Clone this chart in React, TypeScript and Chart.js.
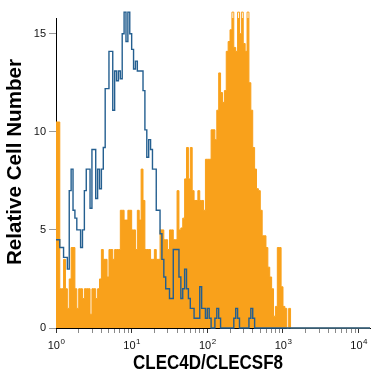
import React, { useEffect, useRef } from 'react';
import { Chart, registerables } from 'chart.js';

Chart.register(...registerables);

// ---- data (log10 fluorescence bins, counts) ----
const BIN_LOG_WIDTH = 0.025;
const X_MAX_LOG = 4.15;
const DECADES = [0, 1, 2, 3, 4];
const Y_TICKS = [0, 5, 10, 15];
const Y_MAX = 15.8;
const X_TITLE = 'CLEC4D/CLECSF8';
const Y_TITLE = 'Relative Cell Number';

// orange filled histogram (CLEC4D stained)
const ORANGE_COUNTS = [
  10.5, 10.5, 2.0, 2.0, 3.5, 2.0, 1.0, 2.5, 4.1, 4.1,
  2.0, 1.0, 2.0, 2.0, 1.5, 2.0, 2.0, 2.0, 0.7, 2.0,
  2.0, 1.5, 2.0, 2.5, 4.0, 3.5, 3.5, 2.6, 4.0, 4.0,
  3.5, 4.0, 4.0, 4.0, 6.0, 6.0, 5.5, 5.5, 6.0, 6.0,
  5.0, 5.0, 4.0, 6.0, 5.5, 8.1, 6.5, 4.0, 4.0, 4.0,
  3.5, 3.5, 4.0, 3.5, 3.5, 5.0, 5.0, 4.5, 4.5, 4.0,
  5.0, 5.0, 4.5, 4.5, 7.0, 5.0, 5.1, 5.6, 7.6, 9.2,
  7.6, 9.2, 7.0, 6.5, 6.5, 7.0, 6.5, 6.5, 6.0, 8.6,
  8.6, 8.6, 10.1, 10.1, 9.6, 11.1, 13.0, 12.0, 11.5, 12.1,
  14.1, 14.6, 15.2, 16.1, 14.3, 14.1, 16.1, 15.0, 16.1, 14.5,
  14.1, 16.1, 12.5, 11.1, 9.2, 8.1, 7.1, 7.0, 6.0, 4.7,
  4.7, 4.1, 3.1, 2.6, 2.0, 0.6, 1.1, 4.1, 4.1, 2.1,
  1.1, 1.0, 0, 1.0, 0,
];

// blue open histogram (isotype control)
const BLUE_COUNTS = [
  4.5, 4.5, 4.1, 4.1, 3.6, 3.6, 3.0, 7.0, 8.1, 6.0,
  5.6, 5.0, 5.0, 4.1, 5.0, 7.0, 8.1, 8.1, 6.1, 9.1,
  9.1, 6.6, 8.1, 7.1, 8.1, 9.2, 12.2, 12.2, 14.1, 14.1,
  11.1, 13.1, 12.6, 13.1, 12.7, 15.0, 16.1, 14.6, 16.1, 15.0,
  14.2, 13.2, 13.6, 13.1, 13.1, 13.1, 12.1, 10.1, 8.7, 9.6,
  9.1, 8.1, 8.1, 6.0, 6.0, 4.8, 3.5, 2.6, 2.0, 2.0,
  1.5, 1.5, 4.0, 4.0, 4.0, 2.6, 1.5, 2.0, 3.0, 2.0,
  1.5, 1.0, 1.0, 0.5, 0.5, 0.5, 2.1, 1.0, 1.0, 0.5,
  1.0, 0.5, 0, 0, 0.5, 1.0, 0.5, 0, 0, 0,
  0, 0, 0, 0, 0.5, 1.0, 0.5, 0, 0, 0,
  0, 0, 0.5, 1.0, 0.5,
];

const ORANGE = '#f9a11b';
const BLUE = '#245f90';
const FONT = '"Liberation Sans", Arial, sans-serif';

function toPoints(counts: number[]) {
  const pts = counts.map((v, i) => ({ x: i * BIN_LOG_WIDTH, y: v }));
  pts.push({ x: counts.length * BIN_LOG_WIDTH, y: 0 });
  pts.push({ x: X_MAX_LOG, y: 0 });
  return pts;
}

const X_TICK_POS: number[] = [];
DECADES.forEach((d) => {
  for (let k = 1; k <= 9; k++) {
    const v = d + Math.log10(k);
    if (v <= X_MAX_LOG + 1e-9) X_TICK_POS.push(v);
  }
});

const isMajor = (v: number) => Math.abs(v - Math.round(v)) < 1e-6;

const labelsPlugin = {
  id: 'flowLabels',
  afterDraw(chart: any) {
    const ctx = chart.ctx as CanvasRenderingContext2D;
    const xs = chart.scales.x;
    ctx.save();
    ctx.fillStyle = '#111';
    // x tick labels 10^n
    DECADES.forEach((d) => {
      const px = xs.getPixelForValue(d);
      ctx.font = `11px ${FONT}`;
      const w1 = ctx.measureText('10').width;
      ctx.font = `8px ${FONT}`;
      const w2 = ctx.measureText(String(d)).width;
      const start = px - (w1 + w2) / 2;
      ctx.textAlign = 'left';
      ctx.textBaseline = 'alphabetic';
      ctx.font = `11px ${FONT}`;
      ctx.fillText('10', start, 349);
      ctx.font = `8px ${FONT}`;
      ctx.fillText(String(d), start + w1 + 0.5, 344);
    });
    // x title
    ctx.font = `bold 20px ${FONT}`;
    const tw = ctx.measureText(X_TITLE).width;
    ctx.save();
    ctx.translate(208, 369);
    ctx.scale(150 / tw, 1);
    ctx.textAlign = 'center';
    ctx.fillStyle = '#000';
    ctx.fillText(X_TITLE, 0, 0);
    ctx.restore();
    // y title
    const yw = ctx.measureText(Y_TITLE).width;
    ctx.save();
    ctx.translate(21, 162);
    ctx.rotate(-Math.PI / 2);
    ctx.scale(206 / yw, 1);
    ctx.textAlign = 'center';
    ctx.fillStyle = '#000';
    ctx.fillText(Y_TITLE, 0, 0);
    ctx.restore();
    ctx.restore();
  },
};

export default function App() {
  const ref = useRef<HTMLCanvasElement | null>(null);
  useEffect(() => {
    if (!ref.current) return;
    const chart = new Chart(ref.current, {
      type: 'line',
      data: {
        datasets: [
          {
            label: 'Control',
            data: toPoints(BLUE_COUNTS),
            stepped: true,
            borderColor: BLUE,
            borderWidth: 1.4,
            pointRadius: 0,
            fill: false,
            clip: { left: 1, top: 8, right: 1, bottom: 1 } as any,
          },
          {
            label: 'CLEC4D',
            data: toPoints(ORANGE_COUNTS),
            stepped: true,
            borderColor: ORANGE,
            backgroundColor: ORANGE,
            borderWidth: 1,
            pointRadius: 0,
            fill: 'origin',
            clip: { left: 1, top: 8, right: 1, bottom: 1 } as any,
          },
        ],
      },
      options: {
        responsive: false,
        animation: false,
        devicePixelRatio: 1,
        layout: { padding: { left: 4, right: 5, top: 18, bottom: 0 } },
        plugins: { legend: { display: false }, tooltip: { enabled: false } },
        scales: {
          x: {
            type: 'linear',
            min: 0,
            max: X_MAX_LOG,
            afterBuildTicks: (s: any) => {
              s.ticks = X_TICK_POS.map((v) => ({ value: v }));
            },
            afterFit: (s: any) => {
              s.height = 47;
            },
            ticks: { display: false },
            grid: {
              drawOnChartArea: false,
              drawTicks: true,
              tickLength: 5,
              tickColor: (c: any) => (c.tick && isMajor(c.tick.value) ? '#333' : '#8a8a8a'),
            },
            border: { display: true, color: '#000', width: 1 },
          },
          y: {
            type: 'linear',
            min: 0,
            max: Y_MAX,
            afterBuildTicks: (s: any) => {
              s.ticks = Y_TICKS.map((v) => ({ value: v }));
            },
            afterFit: (s: any) => {
              s.width = 52;
            },
            ticks: { font: { family: FONT, size: 11 }, color: '#111', padding: 3 },
            grid: { drawOnChartArea: false, drawTicks: true, tickLength: 7, tickColor: '#999' },
            border: { display: true, color: '#000', width: 1 },
          },
        },
      },
      plugins: [labelsPlugin],
    });
    return () => chart.destroy();
  }, []);
  return (
    <div style={{ position: 'fixed', left: 0, top: 0, width: 375, height: 375, background: '#fff' }}>
      <canvas ref={ref} width={375} height={375} style={{ display: 'block', width: 375, height: 375 }} />
    </div>
  );
}
